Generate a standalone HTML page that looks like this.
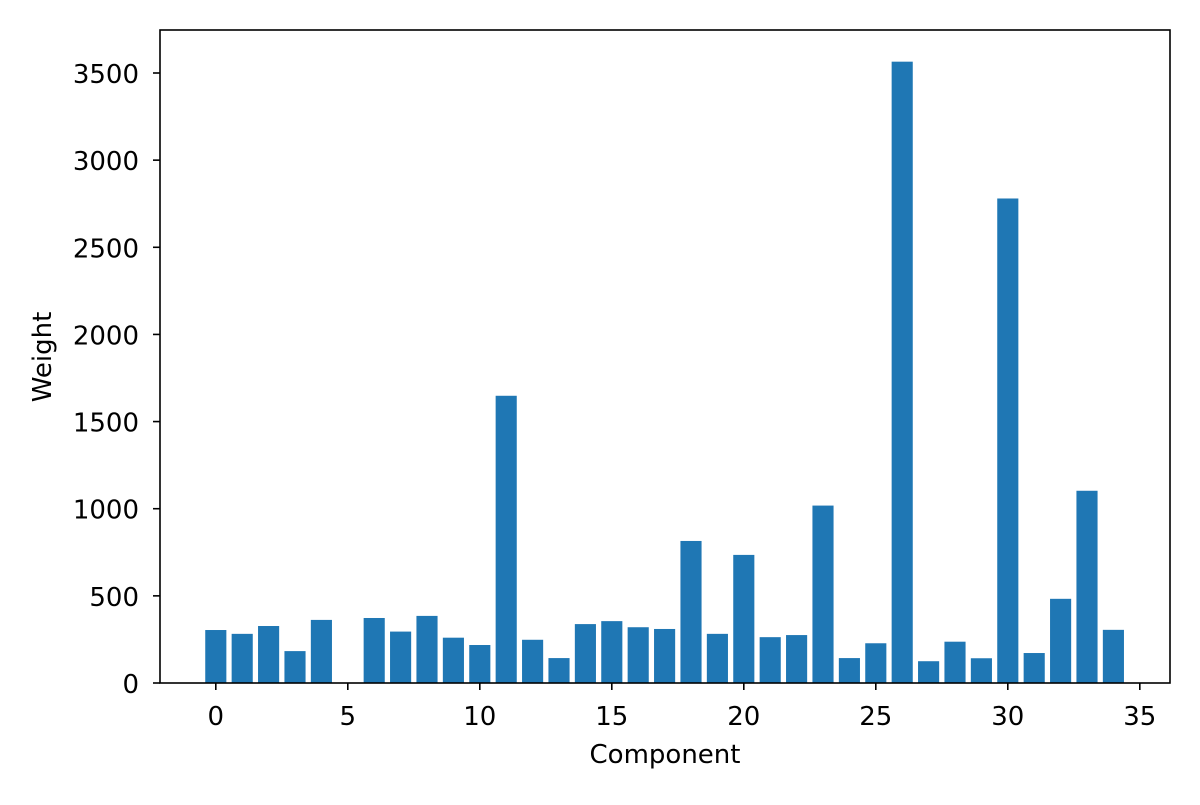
<!DOCTYPE html>
<html><head><meta charset="utf-8"><style>body{margin:0;background:#fff}svg text{font-family:"DejaVu Sans",sans-serif;font-size:26px;fill:#000}</style></head>
<body>
<svg id="s" width="1200" height="800" xmlns="http://www.w3.org/2000/svg"></svg>
<script>
var v=[304,282,327,183,362,0,373,295,385,260,218,1648,248,143,338,355,320,310,815,282,735,263,275,1018,143,228,3565,125,237,142,2780,172,483,1103,305];
var L=160,R=1170,T=30,B=683;
function X(x){return 215.8+x*26.4;}
function Y(y){return B-y*(B-73)/3500;}
var h='';
v.forEach(function(d,i){var x0=X(i-0.4),x1=X(i+0.4);h+='<rect x="'+x0+'" y="'+Y(d)+'" width="'+(x1-x0)+'" height="'+(B-Y(d))+'" fill="#1f77b4"/>';});
h+='<rect x="'+L+'" y="'+T+'" width="'+(R-L)+'" height="'+(B-T)+'" fill="none" stroke="#000" stroke-width="1.6"/>';
for(var t=0;t<=35;t+=5){var x=X(t);h+='<line x1="'+x+'" x2="'+x+'" y1="'+B+'" y2="'+(B+7)+'" stroke="#000" stroke-width="1.6"/><text x="'+x+'" y="725" text-anchor="middle">'+t+'</text>';}
for(var t=0;t<=3500;t+=500){var y=Y(t);h+='<line x1="'+(L-7)+'" x2="'+L+'" y1="'+y+'" y2="'+y+'" stroke="#000" stroke-width="1.6"/><text x="139" y="'+(y+10)+'" text-anchor="end">'+t+'</text>';}
h+='<text x="'+((L+R)/2)+'" y="763" text-anchor="middle">Component</text>';
h+='<text transform="translate(51,357) rotate(-90)" text-anchor="middle">Weight</text>';
document.getElementById('s').innerHTML=h;
</script>
</body></html>
